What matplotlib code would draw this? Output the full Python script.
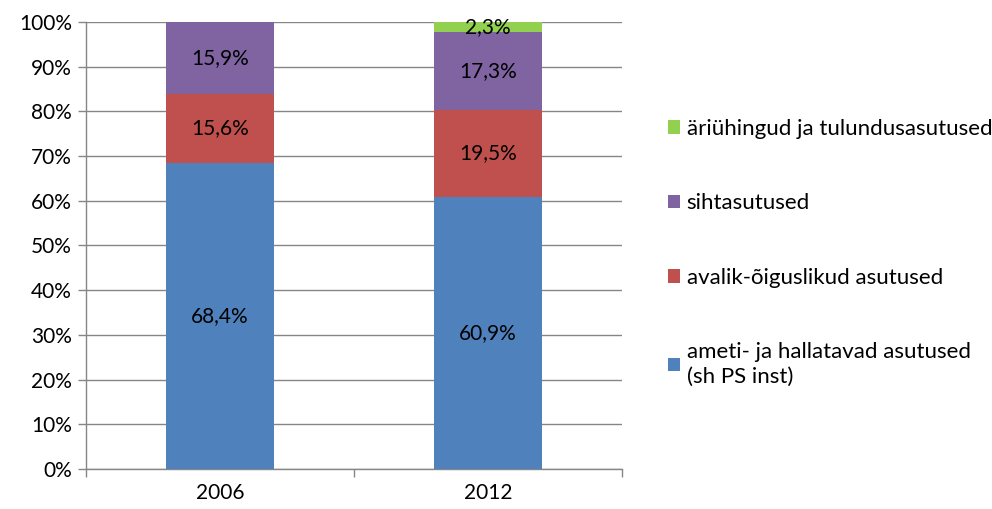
import numpy as np
import matplotlib.pyplot as plt
from matplotlib.ticker import FixedLocator, NullFormatter

plt.rcParams['font.family'] = ['Lato', 'DejaVu Sans']

years = ["2006", "2012"]
series = [
    "ameti- ja hallatavad asutused\n(sh PS inst)",
    "avalik-õiguslikud asutused",
    "sihtasutused",
    "äriühingud ja tulundusasutused",
]
values = [
    [68.4, 60.9],
    [15.6, 19.5],
    [15.9, 17.3],
    [0.1, 2.3],
]
labels = [
    ["68,4%", "60,9%"],
    ["15,6%", "19,5%"],
    ["15,9%", "17,3%"],
    ["", "2,3%"],
]
colors = ["#4F81BD", "#C0504D", "#8064A2", "#92D050"]
grid_c = "#868686"
fs = 15

fig = plt.figure(figsize=(9.92, 5.09), dpi=100)
ax = fig.add_axes([86 / 992, 1 - 469 / 509, 536 / 992, 447 / 509])

x = np.arange(len(years))
bottom = np.zeros(len(years))
handles = []
for vals, labs, col, name in zip(values, labels, colors, series):
    vals = np.array(vals)
    bars = ax.bar(x, vals, 0.4, bottom=bottom, color=col, label=name, zorder=3)
    handles.append(bars)
    for xi, v, b, lab in zip(x, vals, bottom, labs):
        if lab:
            ax.text(xi, b + v / 2, lab, ha="center", va="center",
                    fontsize=fs, color="black", zorder=4)
    bottom += vals

ax.set_xlim(-0.5, 1.5)
ax.set_ylim(0, 100)
ax.set_yticks(np.arange(0, 101, 10))
ax.set_yticklabels([f"{v}%" for v in range(0, 101, 10)], fontsize=fs)
ax.set_xticks(x)
ax.set_xticklabels(years, fontsize=fs)
ax.tick_params(axis="x", length=0, pad=10)
ax.xaxis.set_minor_locator(FixedLocator([-0.5, 0.5, 1.5]))
ax.xaxis.set_minor_formatter(NullFormatter())
ax.tick_params(axis="x", which="minor", length=6, color=grid_c, width=1)
ax.tick_params(axis="y", length=6, color=grid_c, width=1, pad=4)

ax.grid(axis="y", color=grid_c, linewidth=1, zorder=0)
for s in ["top", "right"]:
    ax.spines[s].set_visible(False)
for s in ["left", "bottom"]:
    ax.spines[s].set_color(grid_c)
    ax.spines[s].set_linewidth(1)

leg = fig.legend(handles[::-1], series[::-1], loc="upper left",
                 bbox_to_anchor=(659 / 992, 1 - 110 / 509), frameon=False,
                 fontsize=16, handlelength=0.55, handleheight=0.55,
                 handletextpad=0.3, labelspacing=2.45, borderaxespad=0)
for t in leg.get_texts():
    t.set_linespacing(1.3)

fig.savefig("out.png", dpi=100)
